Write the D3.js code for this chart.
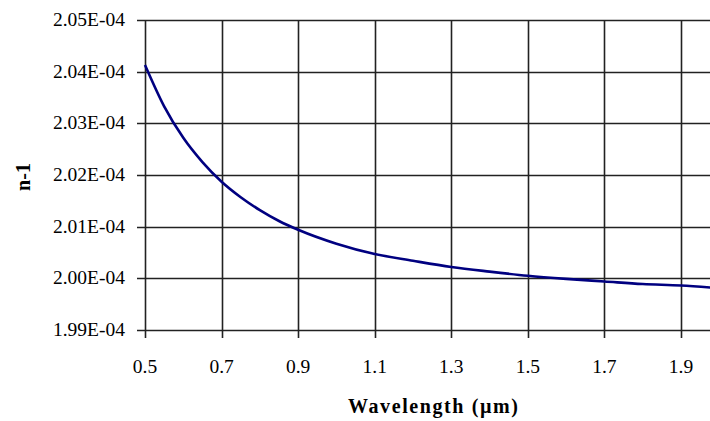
<!DOCTYPE html>
<html>
<head>
<meta charset="utf-8">
<script src="https://cdn.jsdelivr.net/npm/d3@7"></script>
<style>
  body { margin: 0; background: #fff; }
  svg { display: block; }
  text { font-family: "Liberation Serif", "Times New Roman", serif; fill: #000; }
</style>
</head>
<body>
<script>
// wavelength in micrometres
var wavelength = [0.5, 0.55, 0.6, 0.65, 0.7, 0.75, 0.8, 0.85, 0.9, 1.0, 1.1, 1.2,
                  1.3, 1.4, 1.5, 1.6, 1.7, 1.8, 1.9, 1.98];
// n-1
var nMinus1 = [2.0413e-4, 2.0333e-4, 2.0272e-4, 2.0225e-4, 2.0187e-4, 2.0157e-4,
               2.0132e-4, 2.0111e-4, 2.0094e-4, 2.0067e-4, 2.0047e-4, 2.0034e-4,
               2.0022e-4, 2.0013e-4, 2.0005e-4, 1.9999e-4, 1.9994e-4, 1.9989e-4,
               1.9986e-4, 1.9982e-4];
var xTicks = [0.5, 0.7, 0.9, 1.1, 1.3, 1.5, 1.7, 1.9];
var yTicks = [1.99e-4, 2.00e-4, 2.01e-4, 2.02e-4, 2.03e-4, 2.04e-4, 2.05e-4];

var width = 710, height = 421;
var svg = d3.select('body').append('svg')
    .attr('width', width)
    .attr('height', height);

var x = d3.scaleLinear().domain([0.5, 1.9]).range([145, 681]);
var y = d3.scaleLinear().domain([1.99e-4, 2.05e-4]).range([330, 20]);

function fmtY(v) {
  return (v * 1e4).toFixed(2) + 'E-04';
}

// horizontal grid lines (with left tick stubs)
svg.selectAll('line.hgrid')
    .data(yTicks)
  .enter().append('line')
    .attr('class', 'hgrid')
    .attr('x1', 137)
    .attr('x2', width)
    .attr('y1', function(d) { return Math.round(y(d)) + 0.5; })
    .attr('y2', function(d) { return Math.round(y(d)) + 0.5; })
    .attr('stroke', '#222')
    .attr('stroke-width', 1.6);

// vertical grid lines (with bottom tick stubs)
svg.selectAll('line.vgrid')
    .data(xTicks)
  .enter().append('line')
    .attr('class', 'vgrid')
    .attr('x1', function(d) { return Math.round(x(d)) + 0.5; })
    .attr('x2', function(d) { return Math.round(x(d)) + 0.5; })
    .attr('y1', 20)
    .attr('y2', 338)
    .attr('stroke', '#222')
    .attr('stroke-width', 1.6);

// y tick labels
svg.selectAll('text.ylab')
    .data(yTicks)
  .enter().append('text')
    .attr('class', 'ylab')
    .attr('x', 125)
    .attr('y', function(d) { return y(d) + 6; })
    .attr('text-anchor', 'end')
    .attr('font-size', 19.5)
    .text(fmtY);

// x tick labels
svg.selectAll('text.xlab')
    .data(xTicks)
  .enter().append('text')
    .attr('class', 'xlab')
    .attr('x', function(d) { return x(d); })
    .attr('y', 373)
    .attr('text-anchor', 'middle')
    .attr('font-size', 19.5)
    .text(function(d) { return d.toFixed(1); });

// curve
var pts = wavelength.map(function(w, i) { return [w, nMinus1[i]]; });
var line = d3.line()
    .x(function(d) { return x(d[0]); })
    .y(function(d) { return y(d[1]); })
    .curve(d3.curveMonotoneX);

svg.append('path')
    .datum(pts)
    .attr('d', line)
    .attr('fill', 'none')
    .attr('stroke', '#000080')
    .attr('stroke-width', 2.6);

// axis titles
svg.append('text')
    .attr('x', 433)
    .attr('y', 413)
    .attr('text-anchor', 'middle')
    .attr('font-size', 20)
    .attr('font-weight', 'bold')
    .attr('textLength', 170)
    .attr('lengthAdjust', 'spacing')
    .text('Wavelength (\u00b5m)');

svg.append('text')
    .attr('transform', 'translate(30,177) rotate(-90)')
    .attr('text-anchor', 'middle')
    .attr('font-size', 20)
    .attr('font-weight', 'bold')
    .text('n-1');
</script>
</body>
</html>
